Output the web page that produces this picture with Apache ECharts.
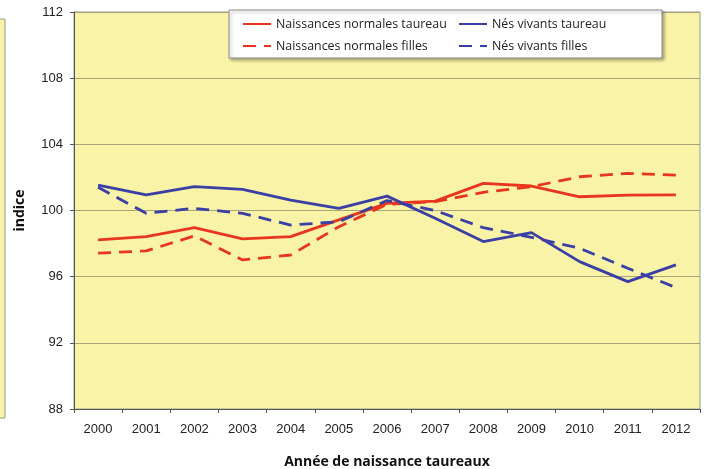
<!DOCTYPE html>
<html><head><meta charset="utf-8">
<script src="https://cdn.jsdelivr.net/npm/echarts@6/dist/echarts.min.js"></script>
<style>html,body{margin:0;padding:0;background:#fff}#c{width:707px;height:469px}</style>
</head><body><div id="c"></div>
<script>
const years = ['2000','2001','2002','2003','2004','2005','2006','2007','2008','2009','2010','2011','2012'];
const nnTaureau = [98.22, 98.42, 98.96, 98.28, 98.42, 99.43, 100.43, 100.57, 101.64, 101.48, 100.83, 100.93, 100.95];
const nnFilles  = [97.42, 97.56, 98.46, 97.01, 97.31, 99.02, 100.37, 100.53, 101.10, 101.44, 102.04, 102.24, 102.14];
const nvTaureau = [101.54, 100.94, 101.44, 101.28, 100.63, 100.13, 100.87, 99.53, 98.12, 98.66, 96.91, 95.70, 96.71];
const nvFilles  = [101.40, 99.83, 100.13, 99.83, 99.12, 99.32, 100.60, 100.00, 98.96, 98.38, 97.72, 96.51, 95.34];
const yTicks = [88, 92, 96, 100, 104, 108, 112];

const RED = '#e8361e', BLUE = '#3a3fa6', YEL = '#f8f3a6', GRIDC = '#a8a47a';
const chart = echarts.init(document.getElementById('c'));
const legText = {fontFamily: 'Open Sans', fontSize: 12.4, color: '#222'};
function mk(name, data, color, dashed) {
  return {name, type: 'line', data, symbol: 'none', showSymbol: false, smooth: false,
    lineStyle: {color, width: 2.8, type: dashed ? [13, 8] : 'solid'},
    itemStyle: {color}};
}
chart.setOption({
  animation: false,
  grid: {left: 74, right: 7, top: 12, bottom: 60, containLabel: false, outerBoundsMode: 'none',
    show: true, backgroundColor: YEL, borderColor: '#9a9a90', borderWidth: 1},
  xAxis: {type: 'category', data: years, boundaryGap: true,
    axisLine: {lineStyle: {color: '#555', width: 1}},
    axisTick: {show: true, length: 4, lineStyle: {color: '#555'}},
    axisLabel: {fontFamily: 'Liberation Sans', fontSize: 13, color: '#222', margin: 14},
    name: 'Année de naissance taureaux', nameLocation: 'middle', nameGap: 46,
    nameTextStyle: {fontFamily: 'Open Sans', fontWeight: 'bold', fontSize: 14, color: '#111'}},
  yAxis: {type: 'value', min: 88, max: 112, interval: 4,
    axisLine: {show: true, lineStyle: {color: '#555', width: 1}},
    axisTick: {show: true, length: 4, lineStyle: {color: '#555'}},
    axisLabel: {fontFamily: 'Liberation Sans', fontSize: 13, color: '#222', margin: 11,
      formatter: v => yTicks.includes(v) ? String(v) : ''},
    splitLine: {lineStyle: {color: GRIDC, width: 1}},
    name: 'indice', nameLocation: 'middle', nameGap: 47, nameRotate: 90,
    nameTextStyle: {fontFamily: 'Open Sans', fontWeight: 'bold', fontSize: 14, color: '#111'}},
  legend: [
    {left: 242, top: 18, orient: 'vertical', itemWidth: 28, itemHeight: 12, itemGap: 10, itemStyle: {opacity: 0},
     data: ['Naissances normales taureau', 'Naissances normales filles'], textStyle: legText, padding: 0},
    {left: 458, top: 18, orient: 'vertical', itemWidth: 28, itemHeight: 12, itemGap: 10, itemStyle: {opacity: 0},
     data: ['Nés vivants taureau', 'Nés vivants filles'], textStyle: legText, padding: 0}
  ],
  graphic: [
    {type: 'rect', z: 1, shape: {x: 229, y: 10, width: 433, height: 48},
     style: {fill: '#fff', stroke: '#8a8a8a', lineWidth: 1, shadowBlur: 3, shadowOffsetX: 2, shadowOffsetY: 2, shadowColor: 'rgba(0,0,0,0.3)'}},
    {type: 'rect', z: 1, shape: {x: -3, y: 19, width: 8, height: 399},
     style: {fill: YEL, stroke: '#9a9a90', lineWidth: 1}},
    {type: 'group', z: 1, children: [85, 152, 219, 285, 352].map(y => ({type: 'line', shape: {x1: 0, y1: y, x2: 5, y2: y}, style: {stroke: GRIDC, lineWidth: 1}}))}
  ],
  series: [
    mk('Naissances normales taureau', nnTaureau, RED, false),
    mk('Naissances normales filles', nnFilles, RED, true),
    mk('Nés vivants taureau', nvTaureau, BLUE, false),
    mk('Nés vivants filles', nvFilles, BLUE, true)
  ]
});
</script></body></html>
